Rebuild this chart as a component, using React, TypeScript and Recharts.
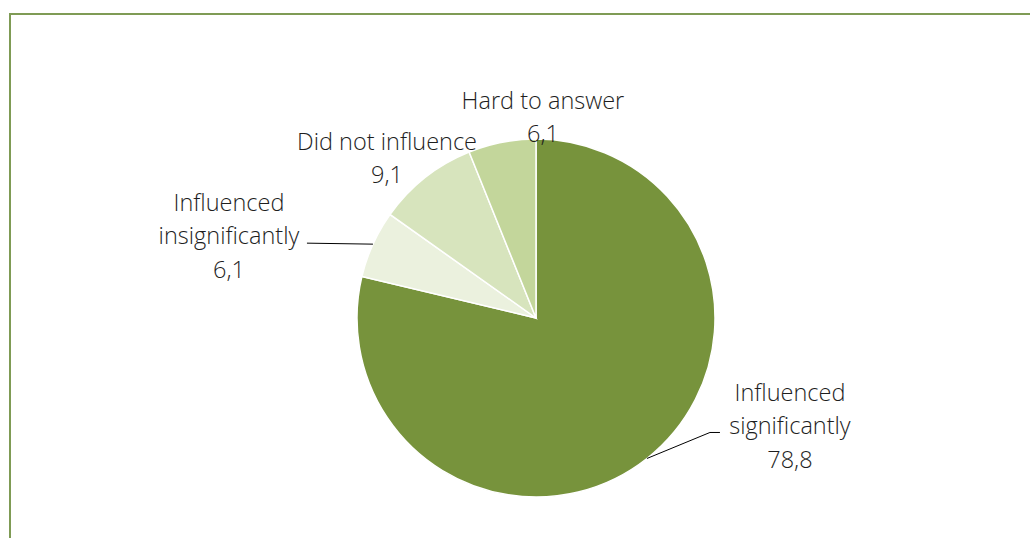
import React from "react";
import { PieChart, Pie, Cell } from "recharts";

const categories = ["Influenced significantly", "Influenced insignificantly", "Did not influence", "Hard to answer"];
const values = [78.8, 6.1, 9.1, 6.1];
const labelLines = [
  ["Influenced", "significantly"],
  ["Influenced", "insignificantly"],
  ["Did not influence"],
  ["Hard to answer"],
];
const colors = ["#77933C", "#EBF1DE", "#D7E4BD", "#C3D69B"];
// label block centre offset relative to slice's outer-arc midpoint (styling)
const labelOffsets = [
  { dx: 143, dy: -33, leader: true },
  { dx: -144, dy: -9, leader: true },
  { dx: -38, dy: -20, leader: false },
  { dx: 41, dy: -26, leader: false },
];

const data = categories.map((name, i) => ({ name, value: values[i] }));

const RAD = Math.PI / 180;
const LINE_H = 33.5;
const FONT = 23.5;

const renderLabel = (props: any) => {
  const { cx, cy, midAngle, outerRadius, index, value } = props;
  const ax = cx + outerRadius * Math.cos(-midAngle * RAD);
  const ay = cy + outerRadius * Math.sin(-midAngle * RAD);
  const off = labelOffsets[index];
  const lx = ax + off.dx;
  const ly = ay + off.dy;
  const lines = [...labelLines[index], String(value).replace(".", ",")];
  const n = lines.length;
  const top = ly - ((n - 1) * LINE_H) / 2;
  let leader = null;
  if (off.leader) {
    if (index === 0) {
      leader = (
        <polyline
          points={`${ax},${ay} ${lx - 80},${ly + 7} ${lx - 70},${ly + 7}`}
          fill="none"
          stroke="#000"
          strokeWidth={1}
        />
      );
    } else {
      leader = (
        <polyline
          points={`${ax},${ay} ${lx + 78},${ly + 8}`}
          fill="none"
          stroke="#000"
          strokeWidth={1}
        />
      );
    }
  }
  return (
    <g key={`lab-${index}`}>
      {leader}
      <text
        x={lx}
        textAnchor="middle"
        fontFamily="'Open Sans', sans-serif"
        fontWeight={300}
        fontSize={FONT}
        fill="#1e1e1e"
      >
        {lines.map((t, i) => (
          <tspan key={i} x={lx} y={top + i * LINE_H} dominantBaseline="central">
            {t}
          </tspan>
        ))}
      </text>
    </g>
  );
};

export default function App() {
  return (
    <div style={{ position: "fixed", left: 0, top: 0, width: 1030, height: 538, background: "#fff", overflow: "hidden" }}>
      <div
        style={{
          position: "absolute",
          left: 9,
          top: 13,
          width: 1030,
          height: 538,
          borderLeft: "2px solid #7F9B55",
          borderTop: "2px solid #7F9B55",
          boxSizing: "border-box",
        }}
      />
      <div style={{ position: "absolute", left: 0, top: 0 }}>
        <PieChart width={1030} height={538} margin={{ top: 0, right: 0, bottom: 0, left: 0 }}>
          <Pie
            data={data}
            dataKey="value"
            nameKey="name"
            cx={536}
            cy={318}
            outerRadius={179}
            startAngle={90}
            endAngle={-270}
            stroke="#fff"
            strokeWidth={1.5}
            label={renderLabel}
            labelLine={false}
            isAnimationActive={false}
          >
            {data.map((d, i) => (
              <Cell key={d.name} fill={colors[i]} />
            ))}
          </Pie>
        </PieChart>
      </div>
    </div>
  );
}
